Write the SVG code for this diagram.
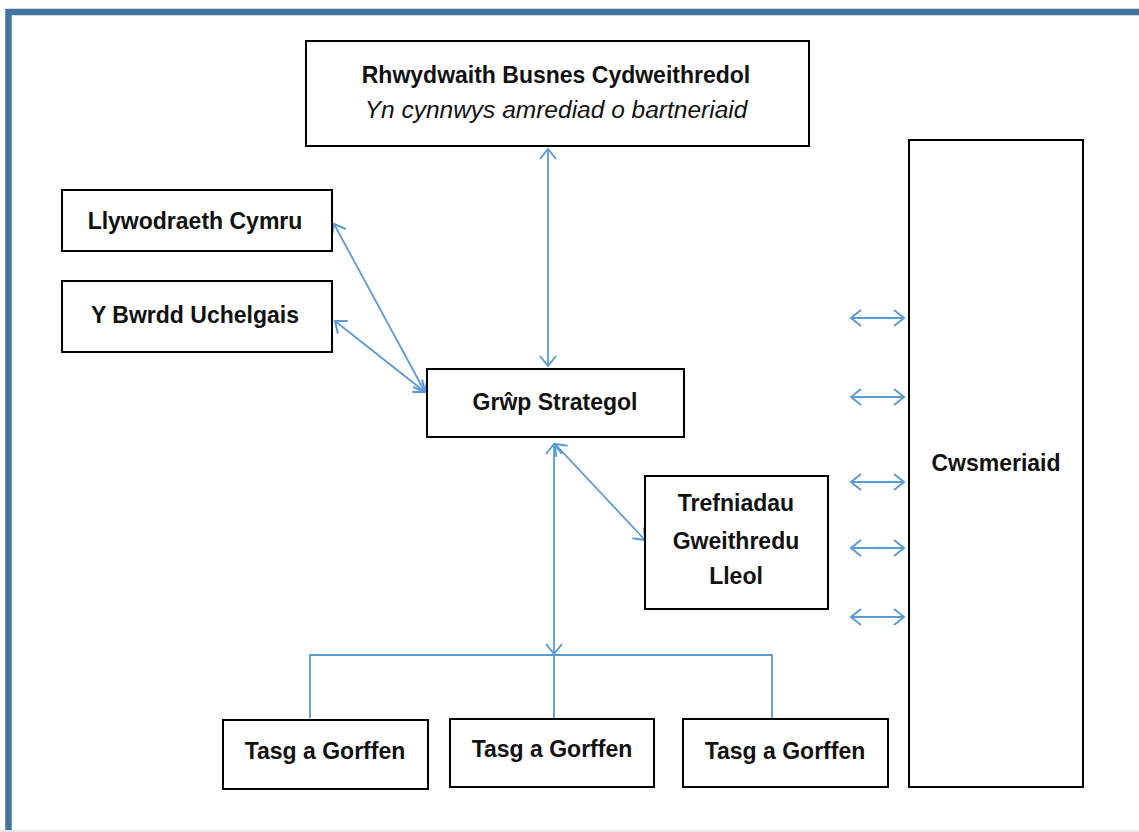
<svg xmlns="http://www.w3.org/2000/svg" width="1139" height="832" viewBox="0 0 1139 832">
<style>
.box{fill:#fff;stroke:#000;stroke-width:2}
.t{font-family:"Liberation Sans",Arial,sans-serif;font-size:23px;font-weight:bold;fill:#111;text-anchor:middle}
.ti{font-family:"Liberation Sans",Arial,sans-serif;font-size:24.5px;font-style:italic;fill:#111;text-anchor:middle}
.c{fill:none;stroke:#5B9BD5;stroke-width:1.8}
</style>
<defs>
<marker id="ah" markerUnits="userSpaceOnUse" markerWidth="20" markerHeight="20" refX="0" refY="0" viewBox="-12 -10 14 20" orient="auto-start-reverse">
<path d="M-10,-8 L0,0 L-10,8" fill="none" stroke="#5B9BD5" stroke-width="2"/>
</marker>
</defs>
<rect x="0" y="0" width="1139" height="832" fill="#fff"/>
<g id="frame">
<rect x="8.5" y="12" width="1140" height="830" fill="none" stroke="#44739F" stroke-width="6.5"/>
<line x1="0" y1="831" x2="1139" y2="831" stroke="#e6e8ec" stroke-width="2"/>
</g>
<g id="connectors">
<line class="c" x1="548" y1="149" x2="548" y2="366" marker-start="url(#ah)" marker-end="url(#ah)"/>
<line class="c" x1="334" y1="224" x2="425" y2="392" marker-start="url(#ah)" marker-end="url(#ah)"/>
<line class="c" x1="335" y1="321" x2="425" y2="392" marker-start="url(#ah)" marker-end="url(#ah)"/>
<line class="c" x1="555" y1="444" x2="645" y2="540" marker-start="url(#ah)" marker-end="url(#ah)"/>
<line class="c" x1="554" y1="444" x2="554" y2="654" marker-start="url(#ah)" marker-end="url(#ah)"/>
<polyline class="c" points="310,718 310,655 772,655 772,719"/>
<line class="c" x1="554" y1="655" x2="554" y2="719"/>
<line class="c" x1="851" y1="318" x2="904" y2="318" marker-start="url(#ah)" marker-end="url(#ah)"/>
<line class="c" x1="851" y1="397" x2="904" y2="397" marker-start="url(#ah)" marker-end="url(#ah)"/>
<line class="c" x1="851" y1="482" x2="904" y2="482" marker-start="url(#ah)" marker-end="url(#ah)"/>
<line class="c" x1="851" y1="548" x2="904" y2="548" marker-start="url(#ah)" marker-end="url(#ah)"/>
<line class="c" x1="851" y1="617" x2="904" y2="617" marker-start="url(#ah)" marker-end="url(#ah)"/>
</g>
<g id="rhwydwaith">
<rect class="box" x="306" y="41" width="503" height="105"/>
<text class="t" x="556" y="83">Rhwydwaith Busnes Cydweithredol</text>
<text class="ti" x="556" y="118">Yn cynnwys amrediad o bartneriaid</text>
</g>
<g id="llywodraeth">
<rect class="box" x="62" y="190" width="270" height="61"/>
<text class="t" x="195" y="229">Llywodraeth Cymru</text>
</g>
<g id="bwrdd">
<rect class="box" x="62" y="281" width="270" height="71"/>
<text class="t" x="195" y="323">Y Bwrdd Uchelgais</text>
</g>
<g id="grwp">
<rect class="box" x="427" y="369" width="257" height="68"/>
<text class="t" x="555" y="410">Grŵp Strategol</text>
</g>
<g id="trefniadau">
<rect class="box" x="645" y="476" width="183" height="133"/>
<text class="t" x="736" y="511">Trefniadau</text>
<text class="t" x="736" y="549">Gweithredu</text>
<text class="t" x="736" y="584">Lleol</text>
</g>
<g id="cwsmeriaid">
<rect class="box" x="909" y="140" width="174" height="647"/>
<text class="t" x="996" y="471">Cwsmeriaid</text>
</g>
<g id="tasg1">
<rect class="box" x="223" y="720" width="205" height="69"/>
<text class="t" x="325" y="759">Tasg a Gorffen</text>
</g>
<g id="tasg2">
<rect class="box" x="450" y="719" width="204" height="68"/>
<text class="t" x="552" y="757">Tasg a Gorffen</text>
</g>
<g id="tasg3">
<rect class="box" x="683" y="719" width="205" height="68"/>
<text class="t" x="785" y="759">Tasg a Gorffen</text>
</g>
</svg>
